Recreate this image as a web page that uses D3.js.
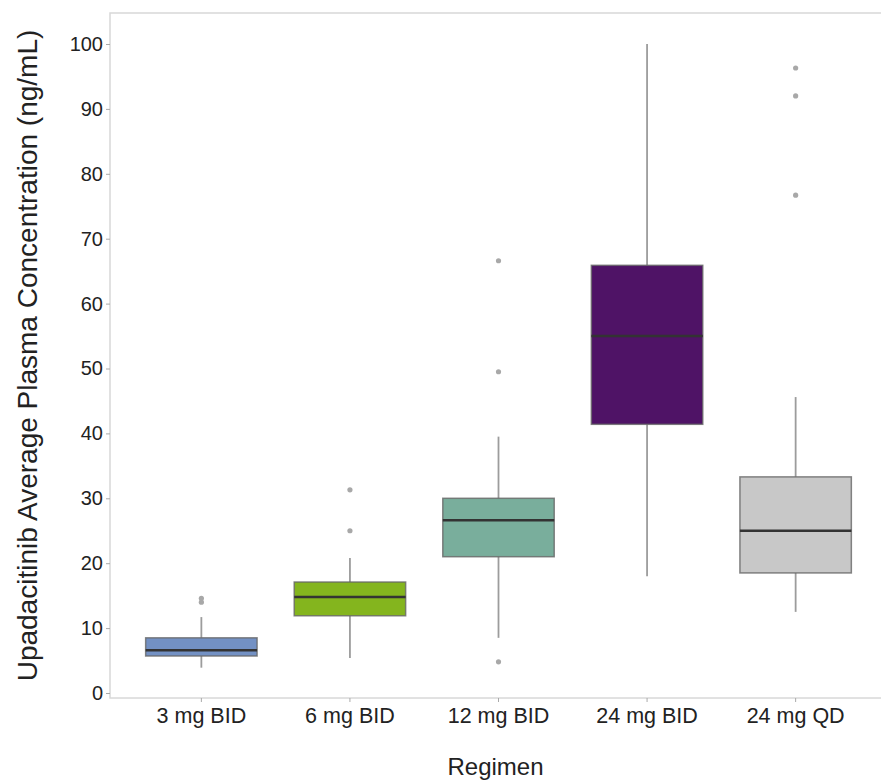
<!DOCTYPE html>
<html>
<head>
<meta charset="utf-8">
<script src="https://cdn.jsdelivr.net/npm/d3@7"></script>
<style>
  body { margin: 0; background: #fff; }
  text { font-family: "Liberation Sans", Arial, sans-serif; }
</style>
</head>
<body>
<svg width="881" height="780"></svg>
<script>
var svg = d3.select("svg"),
    width = +svg.attr("width"),
    height = +svg.attr("height");

// box stats
var regimens = ["3 mg BID", "6 mg BID", "12 mg BID", "24 mg BID", "24 mg QD"];
var q1 =       [5.7, 11.9, 21.0, 41.4, 18.5];
var medians =  [6.6, 14.8, 26.6, 55.0, 25.0];
var q3 =       [8.5, 17.1, 30.0, 65.9, 33.3];
var whiskLo =  [3.9, 5.4, 8.5, 18.0, 12.5];
var whiskHi =  [11.7, 20.8, 39.5, 100.0, 45.6];
var outliers = [[14.0, 14.6], [25.0, 31.3], [4.8, 49.5, 66.6], [], [76.7, 92.0, 96.3]];
var fills =    ["#7391c4", "#84b51e", "#79ae9c", "#4f1366", "#c8c8c8"];
var yTicks =   [0, 10, 20, 30, 40, 50, 60, 70, 80, 90, 100];

var panelL = 110, panelR = 887, panelT = 13, panelB = 698;

var x = d3.scaleBand()
    .domain(regimens)
    .range([panelL, panelR])
    .paddingOuter(0.115)
    .paddingInner(0);

var y = d3.scaleLinear()
    .domain([0, 100])
    .range([693, 44]);

var boxW = x.bandwidth() * 0.75;

// panel border
svg.append("rect")
    .attr("x", panelL).attr("y", panelT)
    .attr("width", panelR - panelL).attr("height", panelB - panelT)
    .attr("fill", "none")
    .attr("stroke", "#d8d8d8")
    .attr("stroke-width", 1.5);

// axes
var yAxis = svg.append("g")
    .attr("transform", "translate(" + panelL + ",0)")
    .call(d3.axisLeft(y).tickValues(yTicks).tickSize(4).tickPadding(3));
var xAxis = svg.append("g")
    .attr("transform", "translate(0," + panelB + ")")
    .call(d3.axisBottom(x).tickSize(4).tickPadding(3));

[yAxis, xAxis].forEach(function (a) {
    a.select(".domain").remove();
    a.selectAll(".tick line").attr("stroke", "#aaa");
    a.selectAll(".tick text").attr("fill", "#222").attr("font-size", 20);
});
xAxis.selectAll(".tick text").attr("font-size", 21.5).attr("dy", "0.85em");

var data = regimens.map(function (r, i) {
    return {name: r, q1: q1[i], med: medians[i], q3: q3[i],
            lo: whiskLo[i], hi: whiskHi[i], out: outliers[i], fill: fills[i]};
});

var g = svg.append("g").selectAll("g")
    .data(data)
    .enter().append("g")
    .attr("transform", function (d) { return "translate(" + (x(d.name) + x.bandwidth() / 2) + ",0)"; });

// whiskers
g.append("line")
    .attr("x1", 0).attr("x2", 0)
    .attr("y1", function (d) { return y(d.hi); })
    .attr("y2", function (d) { return y(d.q3); })
    .attr("stroke", "#9c9c9c").attr("stroke-width", 1.8);
g.append("line")
    .attr("x1", 0).attr("x2", 0)
    .attr("y1", function (d) { return y(d.q1); })
    .attr("y2", function (d) { return y(d.lo); })
    .attr("stroke", "#9c9c9c").attr("stroke-width", 1.8);

// boxes
g.append("rect")
    .attr("x", -boxW / 2)
    .attr("width", boxW)
    .attr("y", function (d) { return y(d.q3); })
    .attr("height", function (d) { return y(d.q1) - y(d.q3); })
    .attr("fill", function (d) { return d.fill; })
    .attr("stroke", "#666")
    .attr("stroke-opacity", 0.8)
    .attr("stroke-width", 1.5);

// medians
g.append("line")
    .attr("x1", -boxW / 2).attr("x2", boxW / 2)
    .attr("y1", function (d) { return y(d.med); })
    .attr("y2", function (d) { return y(d.med); })
    .attr("stroke", "#333").attr("stroke-width", 2.5);

// outliers
g.selectAll("circle")
    .data(function (d) { return d.out; })
    .enter().append("circle")
    .attr("cx", 0)
    .attr("cy", function (v) { return y(v); })
    .attr("r", 2.6)
    .attr("fill", "#a8a8a8");

// titles
svg.append("text")
    .attr("transform", "translate(37," + ((panelT + panelB) / 2) + ") rotate(-90)")
    .attr("text-anchor", "middle")
    .attr("font-size", 28)
    .attr("fill", "#222")
    .text("Upadacitinib Average Plasma Concentration (ng/mL)");

svg.append("text")
    .attr("x", (panelL + 881) / 2)
    .attr("y", 775)
    .attr("text-anchor", "middle")
    .attr("font-size", 24)
    .attr("fill", "#222")
    .text("Regimen");
</script>
</body>
</html>
